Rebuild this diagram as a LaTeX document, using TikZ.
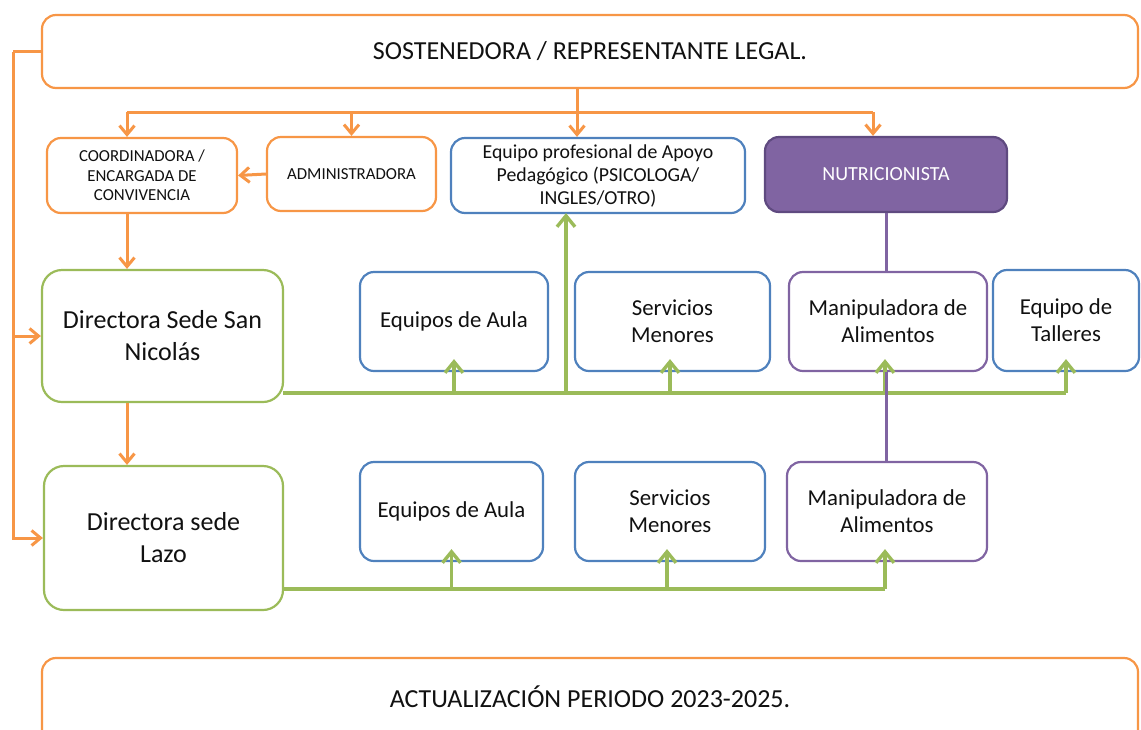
\documentclass[tikz,border=0pt]{standalone}
\usepackage{fontspec}
\setmainfont{Carlito}
\usetikzlibrary{arrows.meta}
\definecolor{ora}{HTML}{F79646}
\definecolor{grn}{HTML}{9BBB59}
\definecolor{blu}{HTML}{4F81BD}
\definecolor{pur}{HTML}{8064A2}
\definecolor{purd}{HTML}{5F4A80}
\definecolor{txt}{HTML}{111111}
\begin{document}
\begin{tikzpicture}[x=1pt,y=-1pt,
  box/.style={draw, line width=2.2pt, rounded corners=14pt, fill=white, align=center, inner sep=0pt, text=txt},
  obox/.style={box, draw=ora},
  gbox/.style={box, draw=grn},
  bbox/.style={box, draw=blu},
  pbox/.style={box, draw=pur},
  fA/.style={font=\fontsize{26}{30}\selectfont},
  fB/.style={font=\fontsize{16.8}{19.5}\selectfont},
  fC/.style={font=\fontsize{19.8}{23}\selectfont},
  fD/.style={font=\fontsize{22.8}{27}\selectfont},
  fE/.style={font=\fontsize{26}{32}\selectfont},
  ocon/.style={draw=ora, line width=3pt},
  gcon/.style={draw=grn, line width=3.4pt},
  pcon/.style={draw=pur, line width=3pt},
  tip/.style={-{Straight Barb[length=9pt,width=15pt]}},
  gtip/.style={-{Straight Barb[length=11pt,width=18pt]}}
]
\clip (0,0) rectangle (1141,729);
\coordinate (lft) at (13,51.5);
\coordinate (hub) at (577,112);
\coordinate (hl) at (127,112);
\coordinate (hr) at (873,112);
\coordinate (g2) at (283,393);
\coordinate (g3) at (283,589);

% boxes
\node[obox, fA, minimum width=1096, minimum height=73] (top) at (590,51.5) {SOSTENEDORA / REPRESENTANTE LEGAL.};
\node[obox, fB, minimum width=190, minimum height=75] (coord) at (142,175.5) {COORDINADORA /\\ENCARGADA DE\\CONVIVENCIA};
\node[obox, fB, minimum width=169, minimum height=74] (admin) at (351.5,174) {ADMINISTRADORA};
\node[bbox, fC, minimum width=294, minimum height=75] (eqp) at (598,175.5) {Equipo profesional de Apoyo\\Pedagógico (PSICOLOGA/\\INGLES/OTRO)};
\node[box, draw=purd, fill=pur, text=white, font=\fontsize{20}{23}\selectfont, minimum width=242, minimum height=75] (nut) at (886,174.5) {NUTRICIONISTA};

\node[gbox, fE, minimum width=241, minimum height=132, rounded corners=20pt] (dsn) at (162.5,336) {Directora Sede San\\Nicolás};
\node[bbox, fD, minimum width=188, minimum height=99] (aula1) at (454,321.5) {Equipos de Aula};
\node[bbox, fD, minimum width=195, minimum height=99] (serv1) at (672.5,321.5) {Servicios\\Menores};
\node[pbox, fD, minimum width=198, minimum height=99] (man1) at (888,321.5) {Manipuladora de\\Alimentos};
\node[bbox, fD, minimum width=146, minimum height=101] (tal) at (1066,320.5) {Equipo de\\Talleres};

\node[gbox, fE, minimum width=239, minimum height=144, rounded corners=20pt] (dlz) at (163.5,538) {Directora sede\\Lazo};
\node[bbox, fD, minimum width=183, minimum height=99] (aula2) at (451.5,511.5) {Equipos de Aula};
\node[bbox, fD, minimum width=190, minimum height=99] (serv2) at (670,511.5) {Servicios\\Menores};
\node[pbox, fD, minimum width=200, minimum height=99] (man2) at (887,511.5) {Manipuladora de\\Alimentos};

\node[obox, fA, minimum width=1096, minimum height=90] (bot) at (590,703) {};
\node[fA, text=txt] (bottxt) at (590,697) {ACTUALIZACIÓN PERIODO 2023-2025.};

% orange connectors
\draw[ocon] (top.west) -- (lft);
\draw[ocon, tip] (lft) |- (dlz.west);
\draw[ocon, tip] (lft |- dsn.west) -- (dsn.west);
\draw[ocon] (hub |- top.south) -- (hub);
\draw[ocon] (hl) -- (hr);
\draw[ocon, tip] (hl) -- (hl |- coord.north);
\draw[ocon, tip] (admin.north |- hl) -- (admin.north);
\draw[ocon, tip] (hub) -- (hub |- eqp.north);
\draw[ocon, tip] (hr) -- (hr |- nut.north);
\draw[ocon, tip] (admin.west) -- (coord.east);
\draw[ocon, tip] (hl |- coord.south) -- (hl |- dsn.north);
\draw[ocon, tip] (hl |- dsn.south) -- (hl |- dlz.north);

% green connectors row 2
\draw[gcon] (g2) -- (tal.south |- g2);
\draw[gcon, gtip] (g2 -| aula1.south) -- ([yshift=13pt]aula1.south);
\draw[gcon, gtip] (g2 -| 670,0) -- ([yshift=13pt]serv1.south -| 670,0);
\draw[gcon, gtip] (g2 -| 885,0) -- ([yshift=13pt]man1.south -| 885,0);
\draw[gcon, gtip] (g2 -| tal.south) -- ([yshift=13pt]tal.south);
\draw[gcon, gtip] (g2 -| 566,0) -- ([yshift=1pt]eqp.south -| 566,0);
% green connectors row 3
\draw[gcon] (g3) -- (g3 -| 885,0);
\draw[gcon, gtip] (g3 -| aula2.south) -- ([yshift=13pt]aula2.south);
\draw[gcon, gtip] (g3 -| 667,0) -- ([yshift=13pt]serv2.south -| 667,0);
\draw[gcon, gtip] (g3 -| 885,0) -- ([yshift=13pt]man2.south -| 885,0);

% purple connectors
\draw[pcon] (nut.south) -- (nut.south |- man1.north);
\draw[pcon] (man1.south -| 886,0) -- (man2.north -| 886,0);
\end{tikzpicture}
\end{document}
